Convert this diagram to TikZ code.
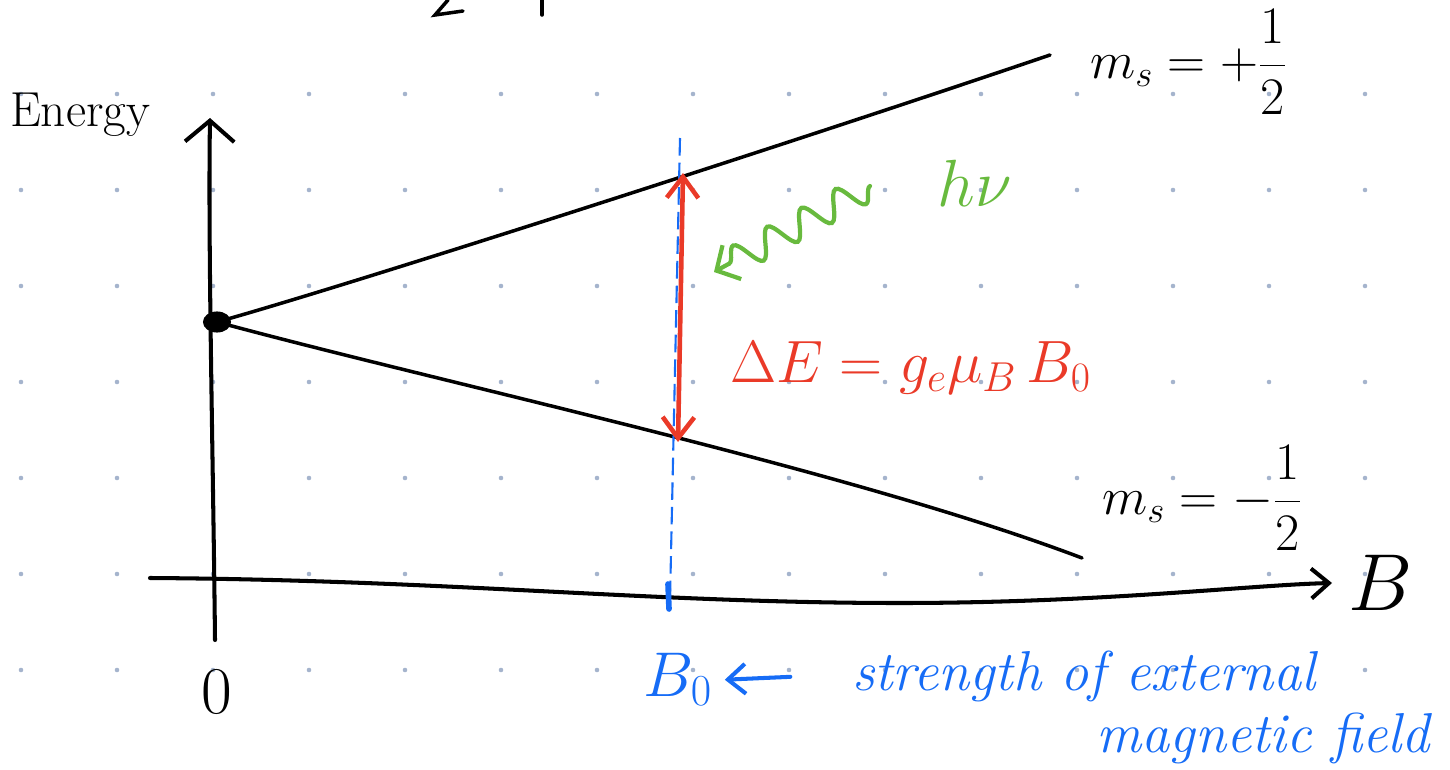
\RequirePackage{fix-cm}
\documentclass[tikz,border=0pt]{standalone}
\usepackage{fontspec}
\usepackage{amsmath}
\usetikzlibrary{arrows.meta, positioning, shapes.geometric, decorations.pathmorphing}
\definecolor{inkred}{RGB}{234,58,40}
\definecolor{inkgreen}{RGB}{104,186,62}
\definecolor{inkblue}{RGB}{22,108,246}
\definecolor{griddot}{RGB}{165,180,205}

\begin{document}
\begin{tikzpicture}[
  x=0.02cm, y=-0.02cm,
  >={Straight Barb[length=10pt,width=17pt]},
  axis/.style={->, line width=2.3pt, line cap=round, line join=round},
  level/.style={line width=2pt, line cap=round},
  transition/.style={<->, line width=2.6pt, color=inkred, line cap=round},
  photon/.style={->, line width=2.4pt, color=inkgreen, line cap=round,
    decorate, decoration={snake, amplitude=0.28cm, segment length=0.78cm, post length=0.3cm}},
  marker/.style={dash pattern=on 10pt off 4pt, line width=1.2pt, color=inkblue},
  pointer/.style={->, line width=2.3pt, color=inkblue, line cap=round},
  lab/.style={font=\fontsize{34}{38}\selectfont, inner sep=1pt},
  note/.style={font=\itshape\fontsize{32}{36}\selectfont, color=inkblue, inner sep=1pt}
]
\useasboundingbox (0,0) rectangle (1450,770);

% dotted paper
\foreach \i in {0,...,14}
  \foreach \j in {1,...,7}
    \fill[griddot] (21+96*\i, -2+96*\j) circle (1.3pt);

% leftovers at the top edge
\draw[level] (448,0) -- (435,15) -- (463,11);
\draw[level] (542,0) -- (542,15);

% axes
\coordinate (yfoot) at (215,640);
\coordinate (ytop) at (210,118);
\coordinate (xfoot) at (150,578);
\coordinate (xtip) at (1332,583);
\draw[axis, >={Straight Barb[length=12pt,width=28pt]}] (yfoot) .. controls (213,450) and (208,250) .. (ytop);
\draw[axis] (xfoot) .. controls (450,580) and (650,603) .. (900,603) .. controls (1100,603) and (1250,585) .. (xtip);

\node[lab, font=\fontsize{28}{32}\selectfont] (energy) at (80,115) {Energy};
\node[lab, font=\fontsize{46}{50}\selectfont, right=8pt of xtip] (Baxis) {$B$};
\node[lab, font=\fontsize{38}{42}\selectfont] (zero) at (217,692) {0};

% zero-field level and splitting
\node[ellipse, fill=black, minimum width=16pt, minimum height=12pt, inner sep=0pt] (E0) at (217,322) {};
\coordinate (upend) at (1050,55);
\coordinate (loend) at (1082,558);
\draw[level] (E0.center) .. controls (350,285) and (800,140) .. (upend);
\draw[level] (E0.center) .. controls (450,385) and (850,470) .. (loend);

\node[lab, font=\fontsize{30}{34}\selectfont, anchor=west] (msup) at (1088,62) {$m_s = +\dfrac{1}{2}$};
\node[lab, font=\fontsize{30}{34}\selectfont, anchor=west] (msdown) at (1100,498) {$m_s = -\dfrac{1}{2}$};

% B0 marker
\coordinate (Btop) at (680,138);
\coordinate (Bfoot) at (670,600);
\draw[marker] (Btop) -- (Bfoot);
\draw[line width=3.2pt, color=inkblue, line cap=round] (668,584) -- (669,609);

% transition
\coordinate (hi) at (683,173);
\coordinate (lo) at (678,442);
\draw[transition, >={Straight Barb[length=12pt,width=18pt]}] (lo) -- (hi);
\node[lab, color=inkred, anchor=west] (gap) at (728,368) {$\Delta E = g_e \mu_B\, B_0$};

% photon
\coordinate (wavestart) at (870,186);
\coordinate (waveend) at (714,272);
\draw[photon, >={Straight Barb[length=10pt,width=22pt]}] (wavestart) -- (waveend);
\node[lab, color=inkgreen, font=\fontsize{38}{42}\selectfont] (hnu) at (975,183) {$h\nu$};

% note under the axis
\node[lab, color=inkblue, font=\fontsize{36}{40}\selectfont, anchor=base] (Bnote) at (678,696) {$B_0$};
\node[note, anchor=base west] (strength) at (850,690) {strength of external};
\node[note, anchor=base east] (field) at (1432,752) {magnetic field};
\draw[pointer, shorten <=34pt, shorten >=6pt] ([yshift=9pt]strength.base west) -- ([yshift=9pt]Bnote.base east);
\end{tikzpicture}
\end{document}
